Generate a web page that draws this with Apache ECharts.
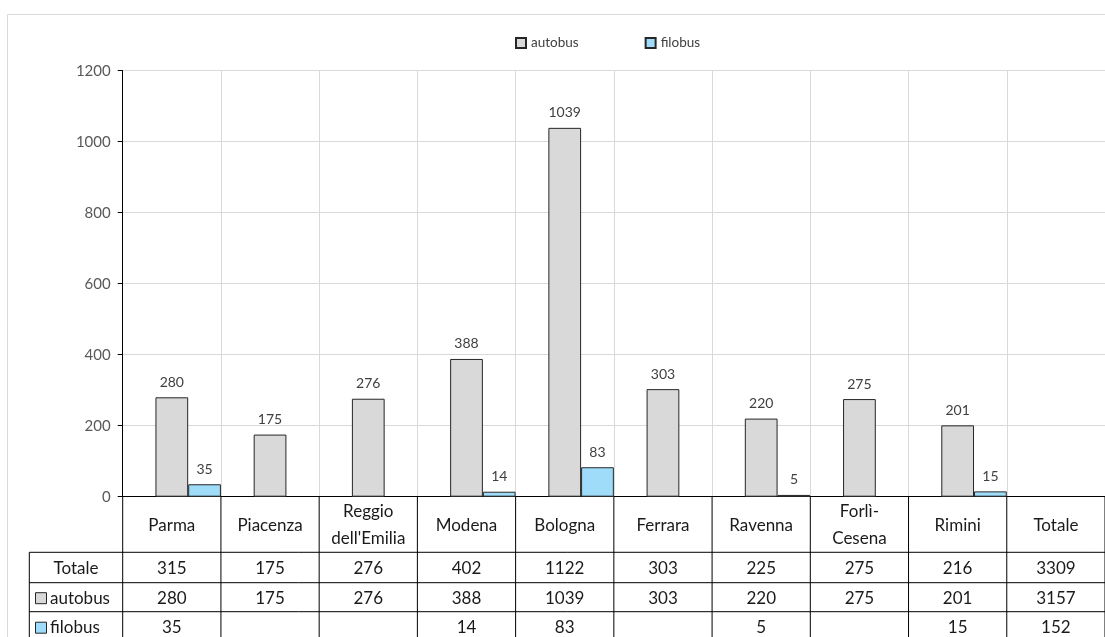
<!DOCTYPE html>
<html>
<head>
<meta charset="utf-8">
<style>
  html, body { margin: 0; padding: 0; background: #fff; }
  #chart { width: 1105px; height: 637px; }
</style>
<script src="https://cdn.jsdelivr.net/npm/echarts@6/dist/echarts.min.js"></script>
</head>
<body>
<div id="chart"></div>
<script>
// Vehicle fleet by province: autobus and filobus, with a data table under the axis
const categories = ['Parma', 'Piacenza', "Reggio\ndell'Emilia", 'Modena', 'Bologna', 'Ferrara', 'Ravenna', 'Forlì-\nCesena', 'Rimini', 'Totale'];
const totale  = [315, 175, 276, 402, 1122, 303, 225, 275, 216, 3309];
const autobus = [280, 175, 276, 388, 1039, 303, 220, 275, 201, 3157];
const filobus = [35, null, null, 14, 83, null, 5, null, 15, 152];
const yTicks = [0, 200, 400, 600, 800, 1000, 1200];

const FONT = 'Lato, "Open Sans", sans-serif';
const GRAY = '#d9d9d9';
const BLUE = '#9fdcfa';

// the summary column is listed in the table but not plotted as bars
const plotted = arr => arr.map((v, i) => categories[i] === 'Totale' ? null : v);

const chart = echarts.init(document.getElementById('chart'), null, { renderer: 'canvas' });

const labelStyle = {
  show: true, position: 'top', distance: 8,
  color: '#404040', fontSize: 14, fontFamily: FONT
};

chart.setOption({
  animation: false,
  backgroundColor: '#fff',
  legend: {
    data: ['autobus', 'filobus'],
    left: 510, top: 31,
    icon: 'rect', itemWidth: 10, itemHeight: 10, itemGap: 66,
    textStyle: { fontSize: 13.5, color: '#404040', fontFamily: FONT }
  },
  grid: { left: 122.7, top: 70.7, width: 991, bottom: 140.3, containLabel: false },
  xAxis: {
    type: 'category',
    data: categories,
    boundaryGap: true,
    axisLine: { lineStyle: { color: '#000', width: 1 } },
    axisTick: { show: false },
    axisLabel: { show: false },
    splitLine: { show: true, lineStyle: { color: GRAY, width: 1 } }
  },
  yAxis: {
    type: 'value',
    min: yTicks[0], max: yTicks[yTicks.length - 1], interval: 200,
    axisLine: { show: true, lineStyle: { color: '#000', width: 1 } },
    axisTick: { show: true, inside: false, length: 5, lineStyle: { color: '#000' } },
    axisLabel: { color: '#595959', fontSize: 15, fontFamily: FONT, margin: 12, formatter: v => String(v) },
    splitLine: { show: true, lineStyle: { color: GRAY, width: 1 } }
  },
  series: [
    {
      // empty slot that holds the first third of each category
      name: 'spacer', type: 'bar', silent: true,
      data: categories.map(() => null),
      barGap: '0%', barCategoryGap: '0%'
    },
    {
      name: 'autobus', type: 'bar',
      data: plotted(autobus),
      barGap: '0%', barCategoryGap: '0%',
      itemStyle: { color: GRAY, borderColor: '#262626', borderWidth: 1 },
      label: labelStyle
    },
    {
      name: 'filobus', type: 'bar',
      data: plotted(filobus),
      barGap: '0%', barCategoryGap: '0%',
      itemStyle: { color: BLUE, borderColor: '#262626', borderWidth: 1 },
      label: labelStyle
    }
  ]
});

// Data table drawn under the x axis, aligned to the category bands
function buildTable() {
  const cx = categories.map((_, i) => chart.convertToPixel({ xAxisIndex: 0 }, i));
  const half = (cx[1] - cx[0]) / 2;
  const edges = [cx[0] - half].concat(cx.map(c => c + half));
  const y0 = chart.convertToPixel({ yAxisIndex: 0 }, 0);
  const xLeft = 29.3;
  const xRight = edges[edges.length - 1];
  const rowH = [55.6, 30.4, 29, 30];
  const rowY = [y0];
  rowH.forEach(h => rowY.push(rowY[rowY.length - 1] + h));

  const els = [];
  const line = (x1, y1, x2, y2) => els.push({
    type: 'line', silent: true,
    shape: { x1, y1, x2, y2 },
    style: { stroke: '#000', lineWidth: 1 }
  });
  const text = (x, y, t, align) => els.push({
    type: 'text', silent: true, x, y,
    style: {
      text: t, fill: '#1a1a1a', font: '17px ' + FONT,
      align: align || 'center', verticalAlign: 'middle', lineHeight: 27
    }
  });

  // outer chart frame
  els.push({
    type: 'rect', silent: true,
    shape: { x: 7.5, y: 14.5, width: 1200, height: 700 },
    style: { fill: 'none', stroke: GRAY, lineWidth: 1 }
  });

  // column borders
  edges.forEach(x => line(x, y0, x, rowY[rowY.length - 1]));
  line(xLeft, rowY[1], xLeft, rowY[rowY.length - 1]);
  // row borders
  for (let r = 1; r < rowY.length; r++) line(xLeft, rowY[r], xRight, rowY[r]);

  // header row: category names
  categories.forEach((c, i) => text(cx[i], (rowY[0] + rowY[1]) / 2 + 1, c));

  // value rows
  const rows = [
    { name: 'Totale', values: totale, key: null },
    { name: 'autobus', values: autobus, key: GRAY },
    { name: 'filobus', values: filobus, key: BLUE }
  ];
  rows.forEach((row, r) => {
    const yc = (rowY[r + 1] + rowY[r + 2]) / 2 + 1;
    if (row.key) {
      els.push({
        type: 'rect', silent: true,
        shape: { x: 35.5, y: yc - 5.5, width: 11, height: 11 },
        style: { fill: row.key, stroke: '#262626', lineWidth: 1 }
      });
      text(50, yc, row.name, 'left');
    } else {
      text((xLeft + edges[0]) / 2, yc, row.name);
    }
    row.values.forEach((v, i) => {
      if (v !== null && v !== undefined) text(cx[i], yc, String(v));
    });
  });

  chart.setOption({ graphic: { elements: els } });
}
buildTable();
</script>
</body>
</html>
